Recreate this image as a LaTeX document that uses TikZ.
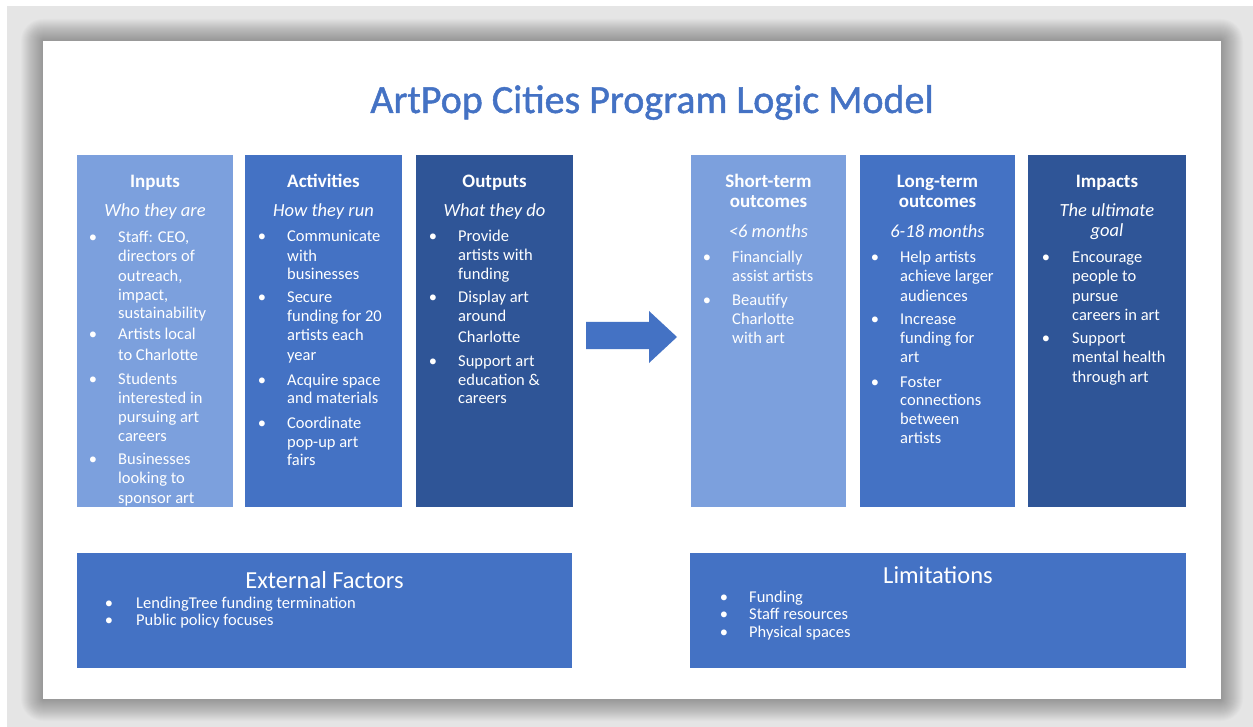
\documentclass[tikz,border=0pt]{standalone}
\usepackage{fontspec}
\setmainfont{Carlito}
\newfontfamily\titlefont{Carlito}[FakeBold=1.2]
\definecolor{light}{HTML}{7CA0DD}
\definecolor{mid}{HTML}{4472C4}
\definecolor{dark}{HTML}{2F5597}
\definecolor{page}{HTML}{E5E5E5}

% lines of a bullet list: name prefix, x of the text, list of y/text
\newcommand{\listlines}[3]{%
  \foreach \yy/\txt [count=\k] in {#3}
    \node[body] (#1-\k) at (#2,\yy+5) {\txt};}
% bullets: name prefix, x, list of y
\newcommand{\listdots}[3]{%
  \foreach \yy [count=\k] in {#3}
    \node[dot] (#1-b\k) at (#2,\yy+5) {•};}

\begin{document}
\begin{tikzpicture}[x=1pt,y=-1pt,
  panel/.style={fill=#1, draw=none, inner sep=0, anchor=north west},
  head/.style={font=\fontsize{19}{22}\selectfont\bfseries, text=white, inner sep=0, anchor=base},
  sub/.style={font=\fontsize{18.5}{22}\selectfont\itshape, text=white, inner sep=0, anchor=base},
  body/.style={font=\fontsize{16.5}{19.5}\selectfont, text=white, inner sep=0, anchor=base west},
  dot/.style={font=\fontsize{16.5}{19.5}\selectfont, text=white, inner sep=0, anchor=base},
  bighead/.style={font=\fontsize{24.5}{28}\selectfont, text=white, inner sep=0, anchor=base},
]
\useasboundingbox (0,0) rectangle (1253,727);
\fill[white] (0,0) rectangle (1253,727);
\fill[page] (7,6) rectangle (1253,727);

% soft shadow around the page card
\foreach \i in {1,...,22}
  \fill[black, opacity=0.014, rounded corners=\i pt] (43-\i,41-\i) rectangle (1221+\i,699+\i);
\node[panel=white, minimum width=1178, minimum height=658] (card) at (43,41) {};

% title
\node[font=\titlefont\fontsize{40}{48}\selectfont, text=mid, anchor=base, inner sep=0] (title) at (652,113) {ArtPop Cities Program Logic Model};

% columns
\node[panel=light, minimum width=156, minimum height=352] (inputs) at (77,155) {};
\node[panel=mid,   minimum width=157, minimum height=352] (activities) at (245,155) {};
\node[panel=dark,  minimum width=157, minimum height=352] (outputs) at (416,155) {};
\node[panel=light, minimum width=155, minimum height=352] (short) at (691,155) {};
\node[panel=mid,   minimum width=155, minimum height=352] (long) at (860,155) {};
\node[panel=dark,  minimum width=158, minimum height=352] (impacts) at (1028,155) {};

% bottom boxes
\node[panel=mid, minimum width=495, minimum height=115] (external) at (77,553) {};
\node[panel=mid, minimum width=496, minimum height=115] (limits) at (690,553) {};

% block arrow between the two groups
\fill[mid] (586,322) -- (649,322) -- (649,311) -- (677,337) -- (649,363) -- (649,349) -- (586,349) -- cycle;

% Inputs
\node[head] (inputs-h) at (155,188) {Inputs};
\node[sub] (inputs-s) at (155,217) {Who they are};
\listdots{in}{93}{238,335,379,459}
\listlines{in}{118}{238/{Staff: CEO,}, 257/{directors of}, 277/{outreach,}, 296/{impact,}, 314/{sustainability}, 335/{Artists local}, 355/{to Charlotte}, 379/{Students}, 398/{interested in}, 417/{pursuing art}, 436/{careers}, 459/{Businesses}, 478/{looking to}, 498/{sponsor art}}

% Activities
\node[head] (activities-h) at (323.5,188) {Activities};
\node[sub] (activities-s) at (323.5,217) {How they run};
\listdots{act}{262}{237,298,380,423}
\listlines{act}{287}{237/{Communicate}, 257/{with}, 275/{businesses}, 298/{Secure}, 317/{funding for 20}, 336/{artists each}, 355/{year}, 380/{Acquire space}, 398/{and materials}, 423/{Coordinate}, 442/{pop-up art}, 460/{fairs}}

% Outputs
\node[head] (outputs-h) at (494.5,188) {Outputs};
\node[sub] (outputs-s) at (494.5,217) {What they do};
\listdots{out}{433}{237,298,361}
\listlines{out}{458}{237/{Provide}, 256/{artists with}, 275/{funding}, 298/{Display art}, 317/{around}, 337/{Charlotte}, 361/{Support art}, 380/{education \&}, 398/{careers}}

% Short-term outcomes
\node[head] (short-h1) at (768.5,188) {Short-term};
\node[head] (short-h2) at (768.5,208) {outcomes};
\node[sub] (short-s) at (768.5,238) {<6 months};
\listdots{st}{707}{258,301}
\listlines{st}{732}{258/{Financially}, 277/{assist artists}, 301/{Beautify}, 320/{Charlotte}, 338/{with art}}

% Long-term outcomes
\node[head] (long-h1) at (937.5,188) {Long-term};
\node[head] (long-h2) at (937.5,208) {outcomes};
\node[sub] (long-s) at (937.5,238) {6-18 months};
\listdots{lt}{875}{258,320,382}
\listlines{lt}{900}{258/{Help artists}, 277/{achieve larger}, 297/{audiences}, 320/{Increase}, 339/{funding for}, 357/{art}, 382/{Foster}, 400/{connections}, 419/{between}, 438/{artists}}

% Impacts
\node[head] (impacts-h) at (1107,188) {Impacts};
\node[sub] (impacts-s1) at (1107,217) {The ultimate};
\node[sub] (impacts-s2) at (1107,237) {goal};
\listdots{im}{1046}{258,338}
\listlines{im}{1072}{258/{Encourage}, 277/{people to}, 297/{pursue}, 315/{careers in art}, 338/{Support}, 357/{mental health}, 377/{through art}}

% External Factors
\node[bighead] (external-h) at (324.5,588) {External Factors};
\listdots{ext}{109}{603,620}
\listlines{ext}{136}{603/{LendingTree funding termination}, 620/{Public policy focuses}}

% Limitations
\node[bighead] (limits-h) at (938,583) {Limitations};
\listdots{lim}{724}{597,614,632}
\listlines{lim}{749}{597/{Funding}, 614/{Staff resources}, 632/{Physical spaces}}
\end{tikzpicture}
\end{document}
